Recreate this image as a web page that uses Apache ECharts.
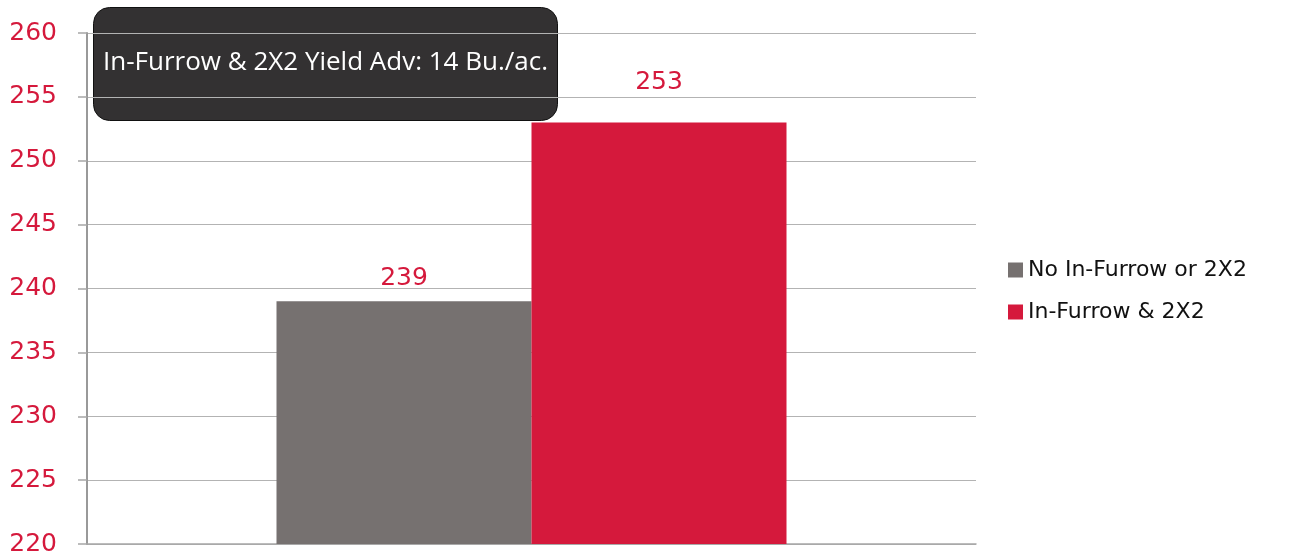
<!DOCTYPE html>
<html><head><meta charset="utf-8">
<script src="https://cdn.jsdelivr.net/npm/echarts@6/dist/echarts.min.js"></script>
<style>html,body{margin:0;padding:0;background:#fff}#c{width:1313px;height:557px}</style>
</head><body><div id="c"></div>
<script>
var categories = ['Yield'];
var seriesNames = ['No In-Furrow or 2X2', 'In-Furrow & 2X2'];
var noInFurrow = [239];
var inFurrow = [253];
var annotationText = 'In-Furrow & 2X2 Yield Adv: 14 Bu./ac.';

var red = '#d5193c', gray = '#767170';
var chart = echarts.init(document.getElementById('c'));
function labelStyle(d) {
  return {show: true, position: 'top', distance: d, color: red, fontSize: 25, fontFamily: 'DejaVu Sans'};
}
chart.setOption({
  animation: false,
  grid: {left: 87, right: 337, top: 33, bottom: 13},
  legend: {
    orient: 'vertical', left: 1003, top: 254, itemWidth: 15, itemHeight: 15, itemGap: 20,
    icon: 'rect',
    textStyle: {fontSize: 22, color: '#111', fontFamily: 'DejaVu Sans'},
    data: seriesNames
  },
  xAxis: {
    type: 'category', data: categories,
    axisLine: {lineStyle: {color: '#a6a6a6', width: 1.5}},
    axisTick: {show: false}, axisLabel: {show: false}
  },
  yAxis: {
    type: 'value', min: 220, max: 260, interval: 5,
    axisLine: {show: true, lineStyle: {color: '#999', width: 2}},
    axisTick: {show: true, length: 9, lineStyle: {color: '#a6a6a6', width: 1.5}},
    axisLabel: {color: red, fontSize: 25, fontFamily: 'DejaVu Sans', margin: 30},
    splitLine: {lineStyle: {color: '#b3b3b3', width: 1.2}}
  },
  series: [
    {name: seriesNames[0], type: 'bar', data: noInFurrow, barWidth: 255, barGap: '0%', itemStyle: {color: gray}, label: labelStyle(10)},
    {name: seriesNames[1], type: 'bar', data: inFurrow, barWidth: 255, barGap: '0%', itemStyle: {color: red}, label: labelStyle(27)}
  ],
  graphic: [{
    type: 'group', left: 93, top: 7,
    children: [
      {type: 'rect', shape: {x: 0, y: 0, width: 464, height: 113, r: 16}, style: {fill: '#333132', stroke: '#111', lineWidth: 1}},
      {type: 'text', x: 232, y: 55, style: {text: annotationText, fill: '#fff', fontSize: 26, fontFamily: 'Open Sans', align: 'center', verticalAlign: 'middle'}}
    ]
  }]
});
</script></body></html>
